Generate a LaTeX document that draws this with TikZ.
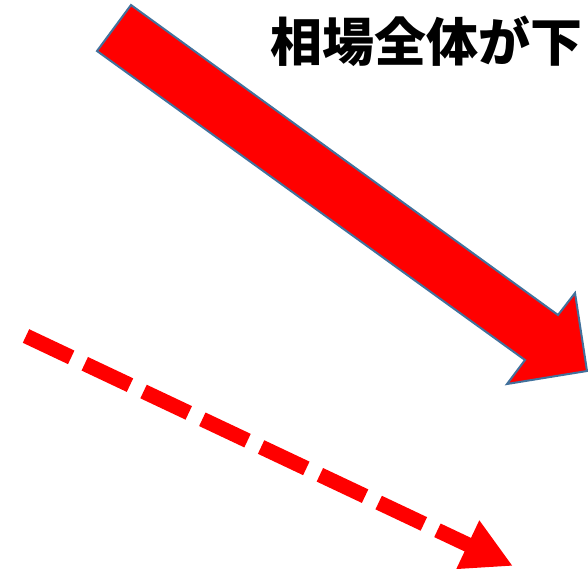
\documentclass[tikz,border=0pt]{standalone}
\usepackage{fontspec}
\newfontfamily\jpfont{Noto Sans CJK JP}
\usetikzlibrary{arrows.meta}

\definecolor{arrowred}{RGB}{255,0,0}
\definecolor{edgeblue}{RGB}{65,113,156}

\tikzset{
  bigarrow/.style={fill=arrowred, draw=edgeblue, line width=2pt, line join=miter},
  trendline/.style={draw=arrowred, line width=15pt, dash pattern=on 50pt off 15pt,
    -{Triangle[length=50pt, width=50pt, fill=arrowred]}}
}

\begin{document}
\begin{tikzpicture}[x=1pt, y=-1pt]
		\useasboundingbox (0,0) rectangle (588,568);

		% label
		\node[anchor=west, inner sep=0pt, font=\jpfont\bfseries\fontsize{52}{52}\selectfont] (title) at (270,41) {相場全体が下};

		% big arrow
		\filldraw[bigarrow] (131,5) -- (558,315) -- (575,293) -- (587,371)
		      -- (507,384) -- (525,360) -- (97,51) -- cycle;

		% dashed arrow
		\coordinate (dstart) at (26,336);
		\coordinate (dend) at (513,566);
		\draw[trendline] (dstart) -- (dend);
\end{tikzpicture}
\end{document}
